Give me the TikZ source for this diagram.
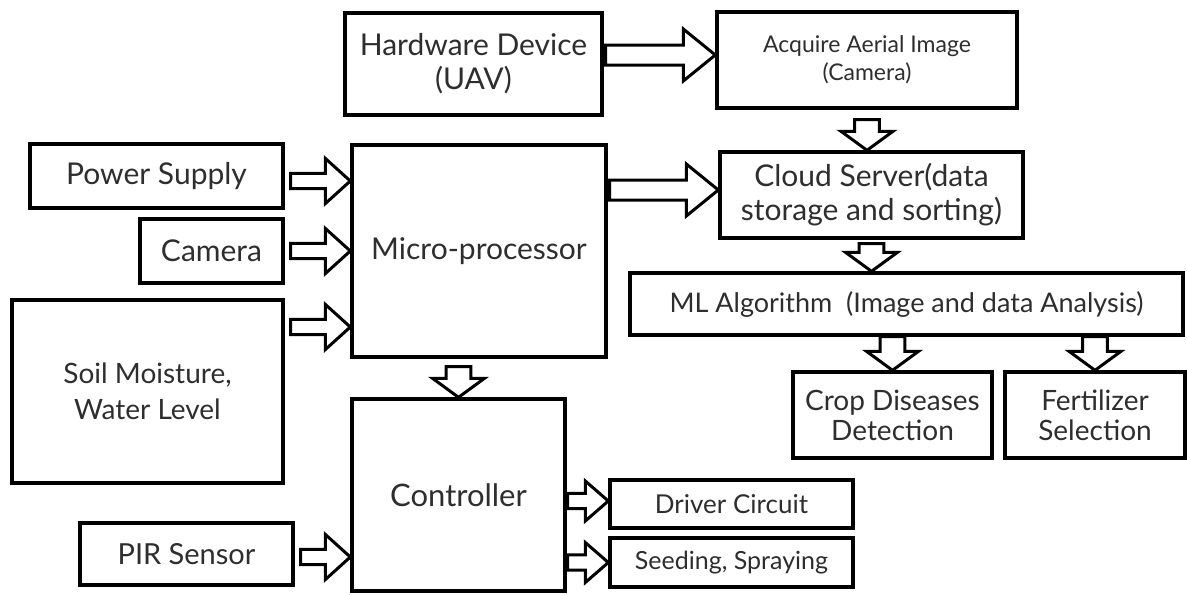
\documentclass[tikz,border=0pt]{standalone}
\usepackage{fontspec}
\setmainfont{Lato}
\usepackage{xcolor}
\usetikzlibrary{calc}
\definecolor{inktext}{HTML}{2E2E2E}

\begin{document}
\begin{tikzpicture}[x=0.5pt, y=-0.5pt,
    blockbox/.style={rectangle, draw=black, line width=1.7pt, fill=white, text=inktext, align=center, inner sep=0pt,
        font=\fontsize{15}{17}\selectfont},
    boxsize/.style 2 args={minimum width=#1*0.5pt, minimum height=#2*0.5pt},
    % hollow block arrows: shaft half, head half, head length, gap
    rarr/.style n args={4}{line width=1.5pt, draw=black, fill=white, to path={
        let \p1=(\tikztostart), \p2=(\tikztotarget) in
        (\x1+#4,\y1+#1) -- (\x2-#3,\y1+#1) -- (\x2-#3,\y1+#2) -- (\x2,\y1)
        -- (\x2-#3,\y1-#2) -- (\x2-#3,\y1-#1) -- (\x1+#4,\y1-#1) -- cycle}},
    darr/.style n args={4}{line width=1.5pt, draw=black, fill=white, to path={
        let \p1=(\tikztostart), \p2=(\tikztotarget) in
        (\x1-#1,\y1-#4) -- (\x1-#1,\y2+#3) -- (\x1-#2,\y2+#3) -- (\x1,\y2)
        -- (\x1+#2,\y2+#3) -- (\x1+#1,\y2+#3) -- (\x1+#1,\y1-#4) -- cycle}},
    bigarr/.style={rarr={5pt}{13pt}{16pt}{1pt}},
    midarr/.style={rarr={3.8pt}{11.3pt}{12.5pt}{3pt}},
    smallarr/.style={rarr={3.8pt}{10pt}{11.5pt}{0.5pt}},
    downarr/.style={darr={6.2pt}{13pt}{9.5pt}{#1}}
]
\useasboundingbox (0,0) rectangle (1187,594);

% top row
\node[blockbox, boxsize={257}{102}] (hw) at (473.5,64) {Hardware Device\\(UAV)};
\node[blockbox, boxsize={300}{96}, font=\fontsize{11.5}{14}\selectfont] (acq) at (867,60) {Acquire Aerial Image\\(Camera)};

% inputs
\node[blockbox, boxsize={253}{64}] (ps) at (156.5,176) {Power Supply};
\node[blockbox, boxsize={143}{64}] (cam) at (211.5,251) {Camera};
\node[blockbox, boxsize={271}{183}, font=\fontsize{14}{18}\selectfont] (soil) at (147.5,391.5) {Soil Moisture,\\Water Level};
\node[blockbox, boxsize={213}{62}, font=\fontsize{14.5}{17}\selectfont] (pir) at (186.5,554) {PIR Sensor};

% processing
\node[blockbox, boxsize={254}{212}] (micro) at (479,251) {Micro-processor};
\node[blockbox, boxsize={213}{192}, font=\fontsize{15.5}{17}\selectfont] (ctrl) at (458.5,495) {Controller};
\node[blockbox, boxsize={243}{48}, font=\fontsize{13}{15}\selectfont] (drv) at (731.5,504) {Driver Circuit};
\node[blockbox, boxsize={243}{49}, font=\fontsize{12.5}{14}\selectfont] (seed) at (731.5,562.5) {Seeding, Spraying};

% cloud side
\node[blockbox, boxsize={303}{86}] (cloud) at (871.5,195) {Cloud Server(data\\storage and sorting)};
\node[blockbox, boxsize={553}{62}, font=\fontsize{13.5}{16}\selectfont] (ml) at (906.5,304) {ML Algorithm~~(Image and data Analysis)};
\node[blockbox, boxsize={199}{86}, font=\fontsize{14}{15}\selectfont] (crop) at (892.5,415) {Crop Diseases\\Detection};
\node[blockbox, boxsize={180}{86}, font=\fontsize{14}{15}\selectfont] (fert) at (1095,415) {Fertilizer\\Selection};

% block arrows
\draw[bigarr] (hw.east |- 0,55) to (acq.west |- 0,55);
\draw[bigarr] (micro.east |- 0,190) to (cloud.west |- 0,190);
\draw[midarr] (ps.east |- 0,181) to (micro.west |- 0,181);
\draw[midarr] (cam.east) to (micro.west |- cam.east);
\draw[midarr] (soil.east |- 0,327) to (micro.west |- 0,327);
\draw[midarr] (pir.east |- 0,557) to (ctrl.west |- 0,557);
\draw[smallarr] (ctrl.east |- 0,501) to (drv.west |- 0,501);
\draw[smallarr] (ctrl.east |- seed.west) to (seed.west);
\draw[downarr=5pt] (acq.south) to (acq.south |- cloud.north);
\draw[downarr=4pt] (ctrl.north |- micro.south) to (ctrl.north);
\draw[downarr=2pt] (cloud.south) to (cloud.south |- ml.north);
\draw[downarr=0pt] (crop.north |- ml.south) to (crop.north);
\draw[downarr=0pt] (fert.north |- ml.south) to (fert.north);
\end{tikzpicture}
\end{document}
